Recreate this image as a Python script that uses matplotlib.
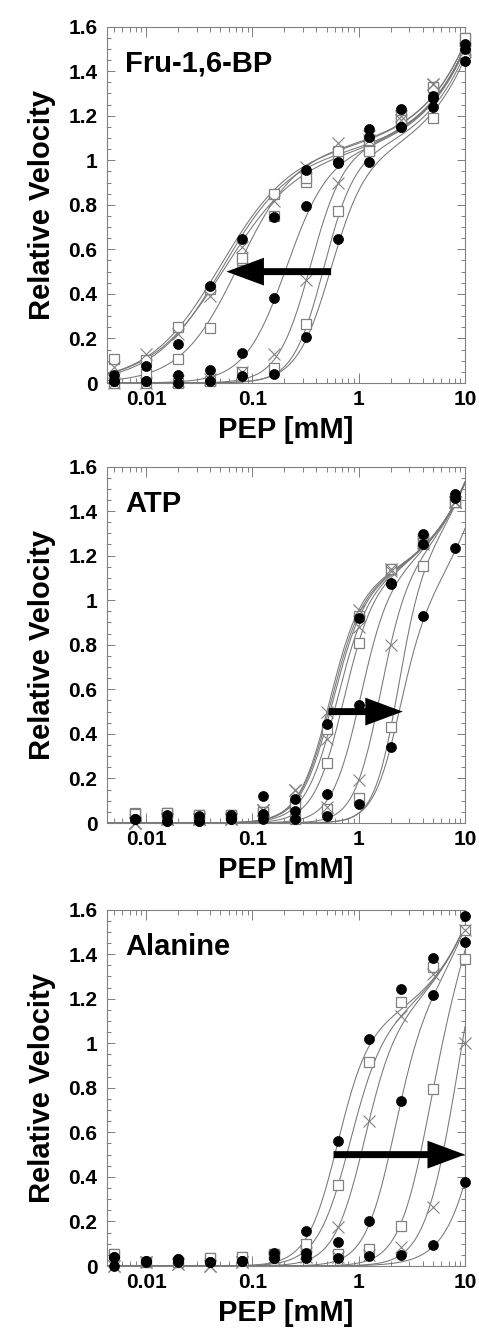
import numpy as np
import matplotlib
matplotlib.use("Agg")
import matplotlib.pyplot as plt
from matplotlib.ticker import FixedLocator, MultipleLocator, NullFormatter, FixedFormatter

plt.rcParams['font.family'] = ['Liberation Sans', 'DejaVu Sans']
plt.rcParams['font.weight'] = 'bold'

# ---------------- data ----------------
# Panel 1: Fru-1,6-BP (activator)
pep_fbp = [0.005, 0.01, 0.02, 0.04, 0.08, 0.16, 0.32, 0.64, 1.25, 2.5, 5, 10]
fbp_v1 = [0.01, 0.01, 0.0, 0.01, 0.03, 0.04, 0.206, 0.646, 0.99, 1.15, 1.24, 1.445]
fbp_v2 = [0.0, 0.0, 0.0, 0.01, 0.05, 0.067, 0.266, 0.774, 1.04, 1.17, 1.19, 1.48]
fbp_v3 = [0.0, 0.0, 0.01, 0.02, 0.048, 0.13, 0.463, 0.90, 1.09, 1.18, 1.34, 1.50]
fbp_v4 = [0.01, 0.01, 0.034, 0.057, 0.134, 0.38, 0.795, 0.987, 1.106, 1.229, 1.29, 1.50]
fbp_v5 = [0.0, 0.04, 0.108, 0.247, 0.55, 0.75, 0.904, 1.02, 1.09, 1.21, 1.33, 1.55]
fbp_v6 = [0.07, 0.13, 0.22, 0.39, 0.61, 0.815, 0.97, 1.076, 1.11, 1.20, 1.34, 1.49]
fbp_v7 = [0.035, 0.075, 0.175, 0.436, 0.646, 0.747, 0.957, 0.99, 1.14, 1.15, 1.28, 1.52]
fbp_v8 = [0.108, 0.105, 0.252, 0.42, 0.56, 0.85, 0.92, 1.04, 1.04, 1.18, 1.33, 1.55]
fbp_markers = ['o', 's', 'x', 'o', 's', 'x', 'o', 's']
fbp_km = [0.54, 0.466, 0.35, 0.2075, 0.074, 0.055, 0.052, 0.05]
fbp_hill = [2.7, 3.0, 2.8, 2.2, 1.6, 1.25, 1.35, 1.3]
fbp_vmax = [0.98, 1.0, 1.03, 1.02, 1.05, 1.03, 1.03, 1.05]

# Panel 2: ATP (inhibitor)
pep_atp = [0.0078125, 0.015625, 0.03125, 0.0625, 0.125, 0.25, 0.5, 1, 2, 4, 8]
atp_v1 = [0.02, 0.01, 0.01, 0.02, 0.02, 0.02, 0.03, 0.087, 0.341, 0.931, 1.233]
atp_v2 = [0.045, 0.045, 0.037, 0.037, 0.048, 0.02, 0.065, 0.112, 0.43, 1.154, 1.44]
atp_v3 = [0.0, 0.02, 0.02, 0.02, 0.06, 0.04, 0.07, 0.191, 0.80, 1.25, 1.44]
atp_v4 = [0.02, 0.034, 0.03, 0.034, 0.122, 0.052, 0.13, 0.53, 1.073, 1.297, 1.475]
atp_v5 = [0.04, 0.045, 0.037, 0.037, 0.05, 0.08, 0.269, 0.81, 1.14, 1.25, 1.44]
atp_v6 = [0.0, 0.02, 0.02, 0.02, 0.06, 0.146, 0.378, 0.88, 1.13, 1.26, 1.44]
atp_v7 = [0.02, 0.01, 0.01, 0.02, 0.04, 0.108, 0.444, 0.919, 1.075, 1.254, 1.46]
atp_v8 = [0.04, 0.045, 0.037, 0.037, 0.05, 0.08, 0.42, 0.93, 1.14, 1.26, 1.44]
atp_v9 = [0.0, 0.02, 0.02, 0.02, 0.06, 0.146, 0.496, 0.956, 1.14, 1.27, 1.44]
atp_markers = ['o', 's', 'x', 'o', 's', 'x', 'o', 's', 'x']
atp_km = [2.35, 2.3, 1.57, 1.022, 0.714, 0.617, 0.565, 0.545, 0.527]
atp_hill = [3.5, 3.8, 3.46, 3.2, 3.07, 2.9, 2.87, 2.9, 2.97]
atp_vmax = [0.85, 1.05, 1.05, 1.05, 1.05, 1.05, 1.05, 1.05, 1.05]

# Panel 3: Alanine (inhibitor)
pep_ala = [0.005, 0.01, 0.02, 0.04, 0.08, 0.16, 0.32, 0.64, 1.25, 2.5, 5, 10]
ala_v1 = [0.0, 0.02, 0.02, 0.016, 0.022, 0.037, 0.034, 0.034, 0.045, 0.05, 0.094, 0.376]
ala_v2 = [0.0, 0.02, 0.01, 0.0, 0.02, 0.03, 0.04, 0.04, 0.05, 0.087, 0.266, 1.0]
ala_v3 = [0.054, 0.016, 0.02, 0.037, 0.042, 0.054, 0.054, 0.054, 0.075, 0.18, 0.795, 1.38]
ala_v4 = [0.042, 0.024, 0.03, 0.016, 0.022, 0.037, 0.057, 0.109, 0.2, 0.74, 1.215, 1.455]
ala_v5 = [0.0, 0.02, 0.01, 0.0, 0.02, 0.04, 0.06, 0.177, 0.65, 1.123, 1.31, 1.51]
ala_v6 = [0.054, 0.016, 0.02, 0.037, 0.042, 0.054, 0.10, 0.362, 0.914, 1.185, 1.343, 1.51]
ala_v7 = [0.042, 0.024, 0.03, 0.016, 0.022, 0.06, 0.159, 0.559, 1.021, 1.242, 1.383, 1.57]
ala_markers = ['o', 'x', 's', 'o', 'x', 's', 'o']
ala_km = [16.5, 7.4, 4.3, 2.1, 1.115, 0.817, 0.626]
ala_hill = [2.2, 2.85, 3.0, 3.1, 3.0, 2.8, 3.0]
ala_vmax = [1.05, 1.05, 1.05, 1.05, 1.05, 1.05, 1.05]

lin_slope = 0.048  # non-saturating linear component of the fitted curves

panel_names = ['Fru-1,6-BP', 'ATP', 'Alanine']
y_ticks = [0, 0.2, 0.4, 0.6, 0.8, 1.0, 1.2, 1.4, 1.6]
y_tick_labels = ['0', '0.2', '0.4', '0.6', '0.8', '1', '1.2', '1.4', '1.6']
x_ticks = [0.01, 0.1, 1, 10]
x_tick_labels = ['0.01', '0.1', '1', '10']

panels = [
    (pep_fbp, [fbp_v1, fbp_v2, fbp_v3, fbp_v4, fbp_v5, fbp_v6, fbp_v7, fbp_v8],
     fbp_markers, fbp_km, fbp_hill, fbp_vmax),
    (pep_atp, [atp_v1, atp_v2, atp_v3, atp_v4, atp_v5, atp_v6, atp_v7, atp_v8, atp_v9],
     atp_markers, atp_km, atp_hill, atp_vmax),
    (pep_ala, [ala_v1, ala_v2, ala_v3, ala_v4, ala_v5, ala_v6, ala_v7],
     ala_markers, ala_km, ala_hill, ala_vmax),
]

# arrow (tail, tip) in data coordinates
arrows = [((0.55, 0.5), (0.057, 0.5)), ((0.52, 0.5), (2.6, 0.5)), ((0.58, 0.5), (10.0, 0.5))]


def fitted(s, km, n, vmax):
    s = np.asarray(s)
    return (vmax + lin_slope * s) * s ** n / (km ** n + s ** n)


XMIN, XMAX = 0.00429, 10.0
fig = plt.figure(figsize=(4.79, 13.30), dpi=100)
bottoms = [0.712, 0.3812, 0.0481]
W = 358 / 479
H = 356.5 / 1330
L = 107 / 479

grey = '#808080'
line_grey = '#777777'

for (pep, series, markers, kms, hills, vmaxs), name, bot, (tail, tip) in zip(
        panels, panel_names, bottoms, arrows):
    ax = fig.add_axes([L, bot, W, H])
    ax.set_xscale('log')
    ax.set_xlim(XMIN, XMAX)
    ax.set_ylim(0, 1.6)
    xs = np.logspace(np.log10(XMIN), np.log10(XMAX), 400)
    for vals, mk, km, n, vm in zip(series, markers, kms, hills, vmaxs):
        ax.plot(xs, fitted(xs, km, n, vm), color=line_grey, lw=0.75, zorder=2)
    for vals, mk in zip(series, markers):
        if mk == 'o':
            ax.plot(pep, vals, ls='none', marker='o', ms=7.2, mfc='black', mec='black',
                    mew=0.5, zorder=5, clip_on=False)
        elif mk == 's':
            ax.plot(pep, vals, ls='none', marker='s', ms=6.8, mfc='white', mec=grey,
                    mew=0.9, zorder=3, clip_on=False)
        else:
            ax.plot(pep, vals, ls='none', marker='x', ms=8.0, mfc='none', mec=grey,
                    mew=0.8, zorder=4, clip_on=False)

    ax.annotate('', xy=tip, xytext=tail, xycoords='data', textcoords='data',
                arrowprops=dict(arrowstyle='simple,head_length=27,head_width=20,tail_width=5',
                                mutation_scale=1, fc='black', ec='black',
                                shrinkA=0, shrinkB=0, lw=0),
                zorder=6)

    ax.text(0.05, 0.873, name, transform=ax.transAxes, fontsize=21, fontweight='bold',
            ha='left', va='baseline')

    ax.xaxis.set_major_locator(FixedLocator(x_ticks))
    ax.xaxis.set_major_formatter(FixedFormatter(x_tick_labels))
    minor = [m * 10.0 ** e for e in range(-3, 1) for m in range(2, 10)]
    ax.xaxis.set_minor_locator(FixedLocator(minor))
    ax.xaxis.set_minor_formatter(NullFormatter())
    ax.yaxis.set_major_locator(FixedLocator(y_ticks))
    ax.yaxis.set_major_formatter(FixedFormatter(y_tick_labels))
    ax.yaxis.set_minor_locator(MultipleLocator(0.05))

    ax.tick_params(axis='x', which='major', direction='in', length=7.5, width=0.7,
                   color=grey, top=True, bottom=True, labelsize=15, pad=5)
    ax.tick_params(axis='x', which='minor', direction='in', length=3.8, width=0.7,
                   color=grey, top=True, bottom=True)
    ax.tick_params(axis='y', which='major', direction='in', length=5.5, width=0.7,
                   color=grey, left=True, right=True, labelsize=15, pad=7)
    ax.tick_params(axis='y', which='minor', direction='in', length=3.0, width=0.7,
                   color=grey, left=True, right=True)
    for lab in ax.get_xticklabels() + ax.get_yticklabels():
        lab.set_fontweight('bold')
    for sp in ax.spines.values():
        sp.set_color(grey)
        sp.set_linewidth(0.8)

    ax.set_xlabel('PEP [mM]', fontsize=21, fontweight='bold', labelpad=5)
    ax.set_ylabel('Relative Velocity', fontsize=21, fontweight='bold', labelpad=9)

fig.savefig('out.png', dpi=100)
